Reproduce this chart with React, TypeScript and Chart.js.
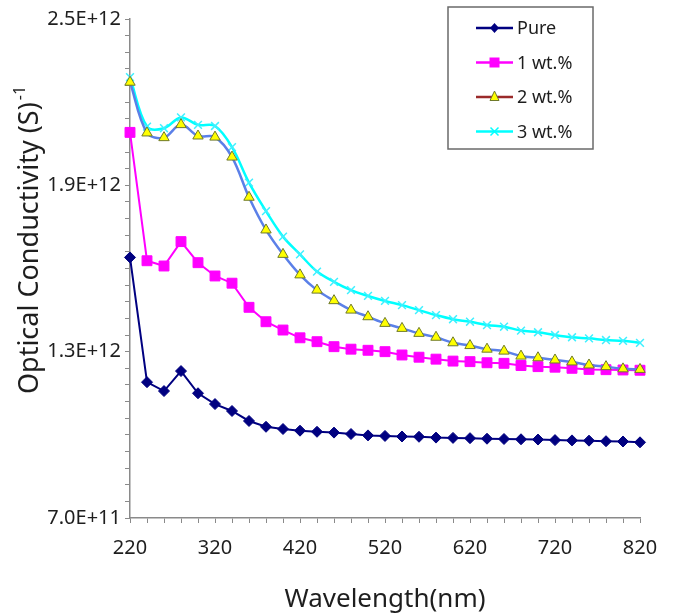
import React, { useEffect, useRef } from 'react';
import { Chart, registerables } from 'chart.js';

Chart.register(...registerables);

// Wavelength (nm)
const wavelengths = [
  220, 240, 260, 280, 300, 320, 340, 360, 380, 400, 420, 440, 460, 480, 500, 520,
  540, 560, 580, 600, 620, 640, 660, 680, 700, 720, 740, 760, 780, 800, 820,
];

// Optical conductivity, in units of 1E+12 (S)^-1
const pureValues = [
  1.640, 1.190, 1.158, 1.230, 1.150, 1.111, 1.086, 1.050, 1.029, 1.021, 1.015, 1.011,
  1.008, 1.003, 0.998, 0.996, 0.994, 0.993, 0.990, 0.989, 0.988, 0.986, 0.985, 0.984,
  0.983, 0.981, 0.980, 0.979, 0.977, 0.976, 0.973,
];
const wt1Values = [
  2.091, 1.628, 1.609, 1.697, 1.621, 1.573, 1.547, 1.460, 1.408, 1.378, 1.350, 1.336,
  1.318, 1.309, 1.305, 1.300, 1.288, 1.280, 1.273, 1.266, 1.264, 1.260, 1.258, 1.250,
  1.246, 1.244, 1.240, 1.236, 1.235, 1.234, 1.233,
];
const wt2Values = [
  2.272, 2.089, 2.072, 2.119, 2.078, 2.074, 2.002, 1.857, 1.739, 1.651, 1.577, 1.522,
  1.484, 1.450, 1.426, 1.402, 1.384, 1.366, 1.352, 1.332, 1.322, 1.309, 1.302, 1.284,
  1.278, 1.270, 1.263, 1.252, 1.246, 1.238, 1.236,
];
const wt3Values = [
  2.290, 2.112, 2.106, 2.145, 2.118, 2.114, 2.038, 1.910, 1.807, 1.715, 1.651, 1.589,
  1.552, 1.522, 1.501, 1.483, 1.468, 1.450, 1.432, 1.417, 1.408, 1.396, 1.390, 1.376,
  1.370, 1.360, 1.352, 1.348, 1.342, 1.339, 1.332,
];

const seriesLabels = ['Pure', '1 wt.%', '2 wt.%', '3 wt.%'];
const yMajorTicks = [0.7, 1.3, 1.9, 2.5]; // x 1E+12
const xMajorTicks = [220, 320, 420, 520, 620, 720, 820];
const xTitle = 'Wavelength(nm)';
const yTitleMain = 'Optical Conductivity (S)';
const yTitleSup = '-1';

const UNIT = 1e12;
const FONT = '"Noto Sans", "Open Sans", sans-serif';
const TEXT = '#1e1e1e';
const AXIS = '#8a8a8a';

const legendStyles = [
  { line: '#000080', marker: 'diamond', fill: '#000080', stroke: '#000080' },
  { line: '#ff00ff', marker: 'square', fill: '#ff00ff', stroke: '#ff00ff' },
  { line: '#9a2a2a', marker: 'triangle', fill: '#ffff00', stroke: '#6f7a2a' },
  { line: '#00ffff', marker: 'cross', fill: '#00ffff', stroke: '#00ffff' },
];

function drawMarker(ctx: CanvasRenderingContext2D, kind: string, x: number, y: number, fill: string, stroke: string) {
  ctx.save();
  ctx.fillStyle = fill;
  ctx.strokeStyle = stroke;
  ctx.lineWidth = 1;
  ctx.beginPath();
  if (kind === 'diamond') {
    ctx.moveTo(x, y - 5);
    ctx.lineTo(x + 4.5, y);
    ctx.lineTo(x, y + 5);
    ctx.lineTo(x - 4.5, y);
    ctx.closePath();
    ctx.fill();
  } else if (kind === 'square') {
    ctx.rect(x - 5, y - 5, 10, 10);
    ctx.fill();
  } else if (kind === 'triangle') {
    ctx.moveTo(x, y - 6);
    ctx.lineTo(x + 4.5, y + 3.5);
    ctx.lineTo(x - 4.5, y + 3.5);
    ctx.closePath();
    ctx.fill();
    ctx.stroke();
  } else {
    ctx.lineWidth = 1.5;
    ctx.moveTo(x - 4, y - 4);
    ctx.lineTo(x + 4, y + 4);
    ctx.moveTo(x + 4, y - 4);
    ctx.lineTo(x - 4, y + 4);
    ctx.stroke();
  }
  ctx.restore();
}

const overlayPlugin = {
  id: 'overlay',
  afterDraw(chart: any) {
    const ctx: CanvasRenderingContext2D = chart.ctx;
    // Y axis title with superscript
    ctx.save();
    ctx.translate(30, 240);
    ctx.rotate(-Math.PI / 2);
    ctx.fillStyle = TEXT;
    ctx.textBaseline = 'middle';
    ctx.textAlign = 'left';
    ctx.font = `27px ${FONT}`;
    const wMain = ctx.measureText(yTitleMain).width;
    ctx.font = `16px ${FONT}`;
    const wSup = ctx.measureText(yTitleSup).width;
    const start = -(wMain + wSup + 2) / 2;
    ctx.font = `27px ${FONT}`;
    ctx.fillText(yTitleMain, start, 0);
    ctx.font = `16px ${FONT}`;
    ctx.fillText(yTitleSup, start + wMain + 2, -10);
    ctx.restore();

    // Legend box
    ctx.save();
    ctx.fillStyle = '#ffffff';
    ctx.strokeStyle = '#6a6a6a';
    ctx.lineWidth = 1.5;
    ctx.fillRect(448, 7, 145, 142);
    ctx.strokeRect(448, 7, 145, 142);
    ctx.font = `18px ${FONT}`;
    ctx.textBaseline = 'middle';
    ctx.textAlign = 'left';
    seriesLabels.forEach((label, i) => {
      const y = 28 + i * 34.5;
      const st = legendStyles[i];
      ctx.strokeStyle = st.line;
      ctx.lineWidth = 2.5;
      ctx.beginPath();
      ctx.moveTo(476, y);
      ctx.lineTo(513, y);
      ctx.stroke();
      drawMarker(ctx, st.marker, 494.5, y, st.fill, st.stroke);
      ctx.fillStyle = TEXT;
      ctx.fillText(label, 517, y + 1);
    });
    ctx.restore();
  },
};

const isMajor = (v: number, majors: number[], tol: number) => majors.some((m) => Math.abs(v - m) < tol);

export default function App() {
  const canvasRef = useRef<HTMLCanvasElement | null>(null);

  useEffect(() => {
    document.body.style.margin = '0';
    const canvas = canvasRef.current;
    if (!canvas) return;
    const toPoints = (vals: number[]) => vals.map((v, i) => ({ x: wavelengths[i], y: v * UNIT }));

    const chart = new Chart(canvas, {
      type: 'line',
      data: {
        datasets: [
          {
            label: seriesLabels[0],
            data: toPoints(pureValues),
            borderColor: '#000080',
            backgroundColor: '#000080',
            borderWidth: 2,
            pointStyle: 'rectRot',
            pointRadius: 5.5,
            pointBorderWidth: 1,
            pointBorderColor: '#000080',
            tension: 0,
            order: 0,
            clip: false,
          },
          {
            label: seriesLabels[1],
            data: toPoints(wt1Values),
            borderColor: '#ff00ff',
            backgroundColor: '#ff00ff',
            borderWidth: 2,
            pointStyle: 'rect',
            pointRadius: 7,
            pointBorderWidth: 1,
            pointBorderColor: '#ff00ff',
            tension: 0,
            order: 2,
            clip: false,
          },
          {
            label: seriesLabels[2],
            data: toPoints(wt2Values),
            borderColor: '#5b80e8',
            backgroundColor: '#ffff00',
            borderWidth: 2.5,
            pointStyle: 'triangle',
            pointRadius: 6,
            pointBorderWidth: 1,
            pointBorderColor: '#6f7a2a',
            tension: 0.35,
            order: 1,
            clip: false,
          },
          {
            label: seriesLabels[3],
            data: toPoints(wt3Values),
            borderColor: '#00ffff',
            backgroundColor: '#00ffff',
            borderWidth: 2.5,
            pointStyle: 'crossRot',
            pointRadius: 5.5,
            pointBorderWidth: 1.5,
            pointBorderColor: '#3ff0ff',
            tension: 0.35,
            order: 3,
            clip: false,
          },
        ],
      },
      options: {
        animation: false,
        responsive: false,
        maintainAspectRatio: false,
        devicePixelRatio: 1,
        layout: { padding: { left: 0, top: 19, right: 36, bottom: 0 } },
        plugins: {
          legend: { display: false },
          tooltip: { enabled: false },
          title: { display: false },
        },
        scales: {
          x: {
            type: 'linear',
            min: 220,
            max: 820,
            afterFit: (s: any) => {
              s.height = 98;
            },
            ticks: {
              stepSize: 20,
              autoSkip: false,
              maxRotation: 0,
              padding: 13,
              color: TEXT,
              font: { family: FONT, size: 20 },
              callback: (v: any) => (isMajor(Number(v), xMajorTicks, 0.01) ? String(Math.round(Number(v))) : ''),
            },
            grid: {
              display: true,
              drawOnChartArea: false,
              drawTicks: true,
              tickLength: 5,
              tickColor: AXIS,
              tickWidth: 1,
            },
            border: { display: true, color: AXIS, width: 1.5 },
            title: {
              display: true,
              text: xTitle,
              color: TEXT,
              font: { family: FONT, size: 26 },
              padding: { top: 0, bottom: 1 },
            },
          },
          y: {
            type: 'linear',
            min: 0.7 * UNIT,
            max: 2.5 * UNIT,
            afterFit: (s: any) => {
              s.width = 130;
            },
            ticks: {
              stepSize: 0.06 * UNIT,
              autoSkip: false,
              padding: 4,
              color: TEXT,
              font: { family: FONT, size: 20 },
              callback: (v: any) => {
                const n = Number(v) / UNIT;
                if (!isMajor(n, yMajorTicks, 1e-6)) return '';
                return (n * UNIT).toExponential(1).toUpperCase();
              },
            },
            grid: {
              display: true,
              drawOnChartArea: false,
              drawTicks: true,
              tickLength: 5,
              tickColor: AXIS,
              tickWidth: 1,
            },
            border: { display: true, color: AXIS, width: 1.5 },
            title: { display: false },
          },
        },
      },
      plugins: [overlayPlugin],
    });

    return () => {
      chart.destroy();
    };
  }, []);

  return (
    <div style={{ width: 676, height: 616, background: '#ffffff' }}>
      <canvas ref={canvasRef} width={676} height={616} style={{ display: 'block' }} />
    </div>
  );
}
